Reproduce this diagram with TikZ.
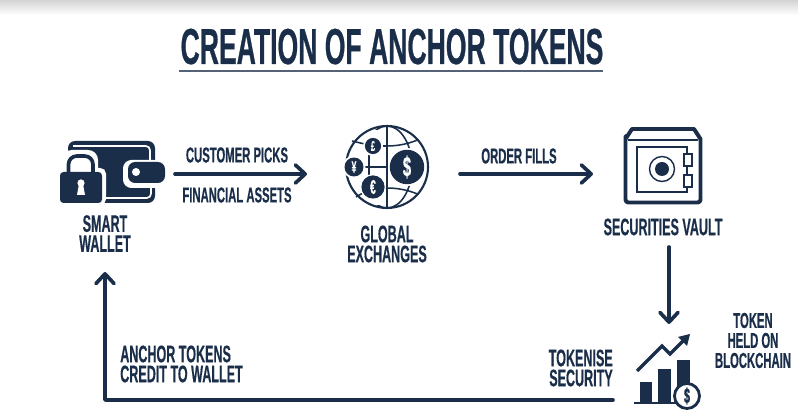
\documentclass[tikz,border=0pt]{standalone}
\usepackage{fontspec}
\usetikzlibrary{arrows.meta}
\newfontfamily\condfont[FakeStretch=0.525,FakeBold=0.5]{Liberation Sans}
\definecolor{navy}{HTML}{1A2E4A}
\tikzset{
    lbl/.style = {text = navy, font = \condfont\bfseries\fontsize{17}{14.2}\selectfont, align = center, inner sep = 0pt},
    lblsmall/.style = {lbl, font = \condfont\bfseries\fontsize{15.3}{14.2}\selectfont},
    flow/.style = {navy, line width = 2.6pt, line cap = round, line join = round, -{Straight Barb[length = 7pt, width = 13pt, line width = 2.6pt, round]}},
    coin/.style = {circle, fill = navy, text = white, inner sep = 0pt, font = \condfont\bfseries}
}
\begin{document}
\begin{tikzpicture}[x = 0.025cm, y = -0.025cm]
    \useasboundingbox (0,0) rectangle (798,418);
    \shade[top color = black!17, bottom color = white] (0,0) rectangle (798,15);
    % title
    \node[lbl, font = \condfont\bfseries\fontsize{36}{34}\selectfont, anchor = base] (title) at (392,64) {CREATION OF ANCHOR TOKENS};
    \draw[draw = navy!75, line width = 1.5pt] (179,71) -- (603,71);
    % wallet
    \fill[navy, rounded corners = 5pt] (68,141) rectangle (155,203);
    \draw[white, line width = 1.2pt, rounded corners = 3pt] (73,146) -- (150,146) -- (150,160);
    \draw[white, line width = 1.2pt, rounded corners = 3pt] (151,187) -- (151,198) -- (104,198);
    \fill[white, rounded corners = 6pt] (123,160) rectangle (162,188);
    \fill[navy, rounded corners = 5pt] (128,162) rectangle (165,183);
    \fill[white] (156,155) rectangle (170,160.5);
    \fill[white] (159,183.5) rectangle (170,190);
    \fill[white] (136,172) circle [radius = 4];
    \fill[white, rounded corners = 7pt] (62,150) rectangle (98,180);
    \fill[white, rounded corners = 4pt] (57,168) rectangle (106,205);
    \draw[navy, line width = 2.6pt, rounded corners = 6pt] (68.5,175) -- (68.5,156) -- (93,156) -- (93,175);
    \fill[navy, rounded corners = 2.5pt] (60,172) rectangle (102,203);
    \fill[white] (81,183) circle [radius = 3.6];
    \fill[white] (79,184) -- (83,184) -- (85,195) -- (77,195) -- cycle;
    \node[lbl] (wallet) at (105,233.5) {SMART\\WALLET};
    % globe
    \coordinate (globe) at (387,167);
    \begin{scope}
        \clip (globe) circle [radius = 41];
        \draw[navy, line width = 1.1pt] (387,167) ellipse [x radius = 25, y radius = 41];
        \draw[navy, line width = 1.1pt] (345,134) .. controls (370,150) and (404,150) .. (429,134);
        \draw[navy, line width = 1.1pt] (345,200) .. controls (370,184) and (404,184) .. (429,200);
        \fill[white] (343,130) rectangle (382,205);
    \end{scope}
    \draw[navy, line width = 1.1pt] (387,126) -- (387,208);
    \draw[navy, line width = 1.5pt] (globe) circle [radius = 41];
    \draw[navy, line width = 1.1pt] (354,167) -- (407,167);
    \draw[navy, line width = 1.1pt] (369,155) -- (369,178);
    \draw[navy, line width = 1.1pt] (373,146) -- (387,146);
    \draw[navy, line width = 1.1pt] (373,187) -- (387,187);
    \draw[navy, line width = 1.1pt] (352,141) -- (373,146);
    \draw[navy, line width = 1.1pt] (356,197) -- (373,187);
    \fill[white] (407,167) circle [radius = 19];
    \fill[white] (373,146) circle [radius = 10];
    \fill[white] (354,167) circle [radius = 11.5];
    \fill[white] (373,187) circle [radius = 13];
    \node[coin, minimum size = 24.5pt] (usd) at (407,167) {\fontsize{20}{20}\selectfont\$};
    \node[coin, minimum size = 11.5pt] (gbp) at (373,146) {\fontsize{10}{10}\selectfont£};
    \node[coin, minimum size = 13.5pt] (jpy) at (354,167) {\fontsize{11.5}{11.5}\selectfont¥};
    \node[coin, minimum size = 16.5pt] (eur) at (373,187) {\fontsize{14}{14}\selectfont€};
    \node[lbl] (exchanges) at (387,244) {GLOBAL\\EXCHANGES};
    % vault
    \draw[navy, line width = 2.8pt, line join = round] (632,129) -- (694,129) -- (700.5,139) -- (700.5,200) [rounded corners = 2pt] -- (700.5,202.5) -- (625.5,202.5) -- (625.5,139) [sharp corners] -- (625.5,139) -- cycle;
    \draw[navy, line width = 0.8pt] (628,140) -- (698,140);
    \draw[navy, line width = 1pt] (637,147) rectangle (687,192);
    \draw[navy, fill = white, line width = 1pt] (684,154) rectangle (692,166);
    \draw[navy, fill = white, line width = 1pt] (684,175) rectangle (692,187);
    \draw[navy, line width = 1pt] (662,169) circle [radius = 12.5];
    \fill[navy] (662,169) circle [radius = 7];
    \node[lbl] (vault) at (663,227) {SECURITIES VAULT};
    % chart
    \fill[navy] (640,382) rectangle (652,402);
    \fill[navy] (658,369) rectangle (671,402);
    \fill[navy] (677,360) rectangle (690,402);
    \draw[navy, line width = 1.4pt] (634,403) -- (678,403);
    \draw[navy, line width = 2pt, fill = white] (687,396) circle [radius = 12.5];
    \node[text = navy, inner sep = 0pt, font = \condfont\bfseries\fontsize{15}{15}\selectfont] (coinchart) at (687,396) {\$};
    \draw[navy, line width = 2.5pt, line join = miter] (637,371) -- (662,346) -- (670,354) -- (684,340);
    \fill[navy] (690,334) -- (687,346) -- (678,337) -- cycle;
    % labels
    \node[lblsmall] (picks) at (237,155) {CUSTOMER PICKS};
    \node[lblsmall] (assets) at (237,195) {FINANCIAL ASSETS};
    \node[lblsmall] (fills) at (519,156) {ORDER FILLS};
    \node[lbl, align = right, anchor = east] (tokenise) at (613,368) {TOKENISE\\SECURITY};
    \node[lblsmall] (held) at (753,340.5) {TOKEN\\HELD ON\\BLOCKCHAIN};
    \node[lbl, align = left, anchor = west] (credit) at (120,364) {ANCHOR TOKENS\\CREDIT TO WALLET};
    % connectors
    \coordinate (a1) at (175,174);
    \coordinate (a2) at (307,174);
    \coordinate (b1) at (460,174);
    \coordinate (b2) at (593,174);
    \coordinate (c1) at (669,247);
    \coordinate (c2) at (669,324);
    \coordinate (d1) at (613,400);
    \coordinate (d2) at (105,400);
    \coordinate (d3) at (105,272);
    \draw[flow] (a1) -- (a2);
    \draw[flow] (b1) -- (b2);
    \draw[flow] (c1) -- (c2);
    \draw[flow] (d1) -- (d2) -- (d3);
\end{tikzpicture}
\end{document}
